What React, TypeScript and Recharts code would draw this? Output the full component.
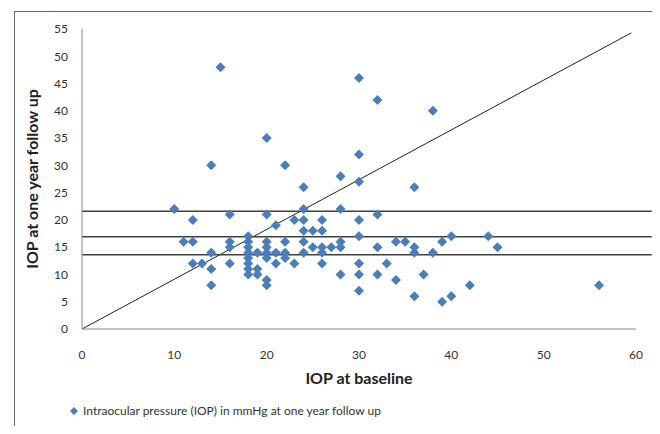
import React from 'react';
import {
  ScatterChart,
  Scatter,
  XAxis,
  YAxis,
  ReferenceLine,
  Legend,
} from 'recharts';

// IOP at baseline (x) vs IOP at one year follow up (y)
const baselineIop: number[] = [
  15, 20, 14, 22, 24, 30, 32, 38, 30, 28, 30, 36,
  10, 12, 11, 12, 12, 13, 14, 14, 14,
  16, 16, 16, 16,
  18, 18, 18, 18, 18, 18, 18, 18,
  19, 19, 19,
  20, 20, 20, 20, 20, 20, 20,
  21, 21, 21,
  22, 22, 22,
  23, 23,
  24, 24, 24, 24, 24,
  25, 25,
  26, 26, 26, 26, 26,
  27,
  28, 28, 28, 28,
  30, 30, 30, 30, 30,
  32, 32, 32,
  33, 34, 34, 35, 36, 36, 36, 37, 38, 39, 39, 40, 40, 42, 44, 45, 56,
];
const followUpIop: number[] = [
  48, 35, 30, 30, 26, 46, 42, 40, 32, 28, 27, 26,
  22, 20, 16, 16, 12, 12, 14, 11, 8,
  21, 16, 15, 12,
  17, 16, 15, 14, 13, 12, 11, 10,
  14, 11, 10,
  21, 16, 15, 14, 13, 9, 8,
  19, 14, 12,
  16, 14, 13,
  20, 12,
  22, 20, 18, 16, 14,
  18, 15,
  20, 18, 15, 14, 12,
  15,
  22, 16, 15, 10,
  20, 17, 12, 10, 7,
  21, 15, 10,
  12, 16, 9, 16, 15, 14, 6, 10, 14, 16, 5, 17, 6, 8, 17, 15, 8,
];

// three horizontal reference levels and the diagonal
const horizontalLevels: number[] = [21.6, 16.9, 13.6];
const diagonalStart = { x: 0, y: 0 };
const diagonalEnd = { x: 59.5, y: 54.3 };

const xTicks = [0, 10, 20, 30, 40, 50, 60];
const yTicks = [0, 5, 10, 15, 20, 25, 30, 35, 40, 45, 50, 55];

const seriesName = 'Intraocular pressure (IOP) in mmHg at one year follow up';
const pointColor = '#4a7ebb';
const fontFamily = 'Lato, "Liberation Sans", sans-serif';

const points = baselineIop.map((x, i) => ({ x, y: followUpIop[i] }));

const Diamond = (props: any) => {
  const { cx, cy } = props;
  const r = 5;
  return (
    <path
      d={`M${cx},${cy - r}L${cx + r},${cy}L${cx},${cy + r}L${cx - r},${cy}Z`}
      fill={pointColor}
    />
  );
};

const LegendContent = (props: any) => {
  const { payload } = props;
  return (
    <div style={{ fontFamily, fontSize: 12, color: '#333', whiteSpace: 'nowrap' }}>
      {(payload || []).map((entry: any) => (
        <span key={entry.value} style={{ display: 'inline-flex', alignItems: 'center' }}>
          <svg width={10} height={10} style={{ marginRight: 4 }}>
            <path d="M4,0L8,4L4,8L0,4Z" fill={pointColor} transform="translate(1,1)" />
          </svg>
          {entry.value}
        </span>
      ))}
    </div>
  );
};

export default function App() {
  return (
    <div
      style={{
        position: 'relative',
        width: 660,
        height: 434,
        margin: -8,
        overflow: 'hidden',
        background: '#fff',
      }}
    >
      <div
        style={{
          position: 'absolute',
          left: 14,
          top: 11,
          width: 643,
          height: 430,
          border: '1px solid #666',
          boxSizing: 'border-box',
        }}
      />
      <div style={{ position: 'absolute', left: 0, top: 0 }}>
        <ScatterChart
          width={660}
          height={434}
          margin={{ top: 29, right: 24, bottom: 75, left: 0 }}
        >
          <XAxis
            type="number"
            dataKey="x"
            domain={[0, 60]}
            ticks={xTicks}
            allowDataOverflow
            height={30}
            axisLine={{ stroke: '#888' }}
            tickLine={false}
            tickSize={6}
            tickMargin={15}
            tick={{ fill: '#333', fontSize: 12, fontFamily }}
            label={{
              value: 'IOP at baseline',
              position: 'bottom',
              offset: 14,
              style: { fill: '#222', fontSize: 16, fontWeight: 'bold', fontFamily },
            }}
          />
          <YAxis
            type="number"
            dataKey="y"
            domain={[0, 55]}
            ticks={yTicks}
            allowDataOverflow
            width={82}
            axisLine={{ stroke: '#888' }}
            tickLine={false}
            tickSize={6}
            tickMargin={8}
            tick={{ fill: '#333', fontSize: 12, fontFamily }}
            label={{
              value: 'IOP at one year follow up',
              angle: -90,
              position: 'insideLeft',
              offset: 32,
              style: {
                textAnchor: 'middle',
                fill: '#222',
                fontSize: 16,
                fontWeight: 'bold',
                fontFamily,
              },
            }}
          />
          <ReferenceLine
            segment={[diagonalStart, diagonalEnd]}
            stroke="#222"
            strokeWidth={1}
            ifOverflow="visible"
          />
          {horizontalLevels.map((level) => (
            <ReferenceLine
              key={level}
              segment={[{ x: 0, y: level }, { x: 61.7, y: level }]}
              stroke="#404040"
              strokeWidth={1.6}
              ifOverflow="visible"
            />
          ))}
          <Scatter
            name={seriesName}
            data={points}
            fill={pointColor}
            shape={<Diamond />}
            isAnimationActive={false}
          />
          <Legend
            layout="vertical"
            align="center"
            verticalAlign="middle"
            wrapperStyle={{ left: 69, top: 403, width: 420 }}
            content={<LegendContent />}
          />
        </ScatterChart>
      </div>
    </div>
  );
}
